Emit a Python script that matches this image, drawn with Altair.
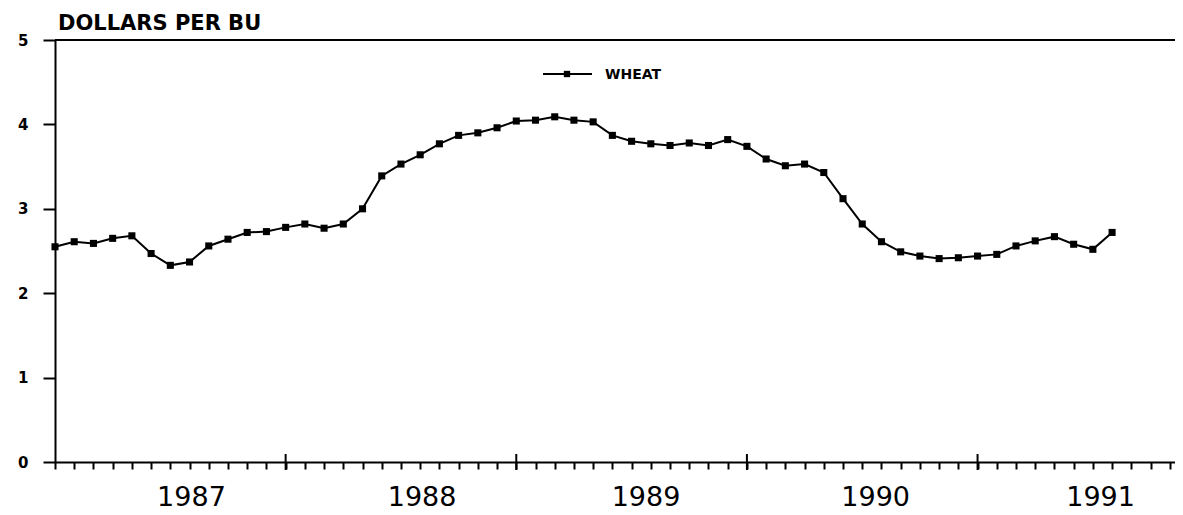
import altair as alt
import pandas as pd

# ---- data ----
month_index = list(range(56))
wheat_price = [2.55, 2.61, 2.59, 2.65, 2.68, 2.47, 2.33, 2.37, 2.56, 2.64, 2.72, 2.73,
               2.78, 2.82, 2.77, 2.82, 3.00, 3.39, 3.53, 3.64, 3.77, 3.87, 3.90, 3.96,
               4.04, 4.05, 4.09, 4.05, 4.03, 3.87, 3.80, 3.77, 3.75, 3.78, 3.75, 3.82,
               3.74, 3.59, 3.51, 3.53, 3.43, 3.12, 2.82, 2.61, 2.49, 2.44, 2.41, 2.42,
               2.44, 2.46, 2.56, 2.62, 2.67, 2.58, 2.52, 2.72]
year_labels = ["1987", "1988", "1989", "1990", "1991"]
year_label_pos = [7.1, 19.1, 30.75, 42.7, 54.4]
major_tick_pos = [12, 24, 36, 48]
minor_tick_pos = list(range(0, 59))
y_ticks = [0, 1, 2, 3, 4, 5]
series_name = ["WHEAT"]
y_title = ["DOLLARS PER BU"]

W, H = 1120, 422
FONT = "DejaVu Sans"

xscale = alt.Scale(domain=[0, W / 19.22], nice=False, zero=False)
yscale = alt.Scale(domain=[0, 5], nice=False)

x_axis = alt.Axis(values=minor_tick_pos, labels=False, tickSize=7,
                  tickColor="black", tickWidth=2, domainColor="black",
                  domainWidth=2, grid=False, title=None)
y_axis = alt.Axis(values=y_ticks, format="d", tickSize=12, labelPadding=15,
                  labelFont=FONT, labelFontSize=15, labelFontWeight="bold",
                  labelColor="black", tickColor="black", tickWidth=2,
                  domainColor="black", domainWidth=2, grid=False, title=None)


def X(field):
    return alt.X(field, scale=xscale, axis=x_axis)


def Y(field):
    return alt.Y(field, scale=yscale, axis=y_axis)


df = pd.DataFrame({"month": month_index, "price": wheat_price})
base = alt.Chart(df)

line = base.mark_line(color="black", strokeWidth=2).encode(
    x=X("month:Q"), y=Y("price:Q"))
points = base.mark_square(color="black", size=50, opacity=1).encode(
    x=X("month:Q"), y=Y("price:Q"))

top_rule = alt.Chart(pd.DataFrame({"month": [0], "price": [y_ticks[-1]]})).mark_rule(
    color="black", strokeWidth=2).encode(
    y=Y("price:Q"), x=alt.value(0), x2=alt.value(W))

major_ticks = alt.Chart(pd.DataFrame({"month": major_tick_pos})).mark_rule(
    color="black", strokeWidth=2).encode(
    x=X("month:Q"), y=alt.value(414), y2=alt.value(430))

years = alt.Chart(pd.DataFrame({"month": year_label_pos, "label": year_labels})).mark_text(
    font=FONT, fontSize=27, align="center", baseline="alphabetic", color="black").encode(
    x=X("month:Q"), y=alt.value(466), text="label:N")

title = alt.Chart(pd.DataFrame({"t": y_title})).mark_text(
    font=FONT, fontSize=21, fontWeight="bold", align="left", baseline="middle",
    color="black").encode(x=alt.value(3), y=alt.value(-16), text="t:N")

leg_df = pd.DataFrame({"s": series_name})
leg_line = alt.Chart(leg_df).mark_rule(color="black", strokeWidth=2).encode(
    x=alt.value(488), x2=alt.value(537), y=alt.value(34))
leg_pt = alt.Chart(leg_df).mark_square(color="black", size=40, opacity=1).encode(
    x=alt.value(512), y=alt.value(34))
leg_txt = alt.Chart(leg_df).mark_text(
    font=FONT, fontSize=14, fontWeight="bold", align="left", baseline="middle",
    color="black").encode(x=alt.value(550), y=alt.value(35), text="s:N")

chart = alt.layer(line, top_rule, points, major_ticks, years, title,
                  leg_line, leg_pt, leg_txt).properties(
    width=W, height=H,
    padding={"left": 47, "top": 32, "right": 0, "bottom": 52},
    autosize=alt.AutoSizeParams(type="none"),
).configure_view(stroke=None).configure(background="white")

chart.save("out.html", embed_options={"renderer": "svg", "actions": False})
